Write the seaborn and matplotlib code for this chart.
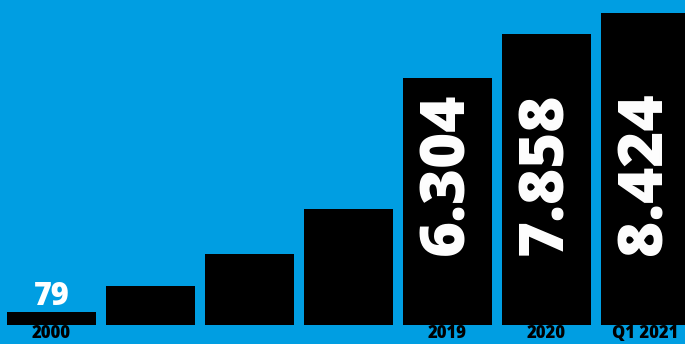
import matplotlib
matplotlib.use("Agg")
import matplotlib.pyplot as plt
import seaborn as sns
import pandas as pd

# Data (bar heights; labels as printed)
slots = ["s0", "s1", "s2", "s3", "s4", "s5", "s6"]
categories = ["2000", "", "", "", "2019", "2020", "Q1 2021"]
bar_heights = [351, 1053, 1917, 3132, 6669, 7857, 8424]
value_labels = ["79", "", "", "", "6.304", "7.858", "8.424"]

BLUE = "#009ee2"

sns.set_theme(style="white")
plt.rcParams["font.family"] = ["Open Sans", "DejaVu Sans"]

fig = plt.figure(figsize=(6.85, 3.44), dpi=100)
fig.patch.set_facecolor(BLUE)
ax = fig.add_axes([0, 19 / 344, 1, 325 / 344])
ax.set_facecolor(BLUE)

df = pd.DataFrame({"slot": slots, "height": bar_heights})
sns.barplot(data=df, x="slot", y="height", color="black", saturation=1,
            width=0.9, ax=ax, edgecolor="none", linewidth=0)

ax.set_xlim(-0.5202, 6.399)
ax.set_ylim(0, 8775)
ax.set_xticks(range(len(categories)))
ax.set_xticklabels(categories, fontsize=12, fontweight="extra bold", color="black")
ax.tick_params(axis="x", length=0, pad=0)
ax.set_yticks([])
ax.set_xlabel("")
ax.set_ylabel("")
for s in ax.spines.values():
    s.set_visible(False)

for i, (h, lab) in enumerate(zip(bar_heights, value_labels)):
    if not lab:
        continue
    if i == 0:
        ax.annotate(lab, (i, h), xytext=(0, 5), textcoords="offset points",
                    ha="center", va="baseline", fontsize=22,
                    fontweight="extra bold", color="white")
    else:
        ax.text(i, 1890, lab, rotation=90, ha="center", va="bottom",
                fontsize=44.5, fontweight="extra bold", color="white")

fig.savefig("out.png", dpi=100, facecolor=BLUE)
